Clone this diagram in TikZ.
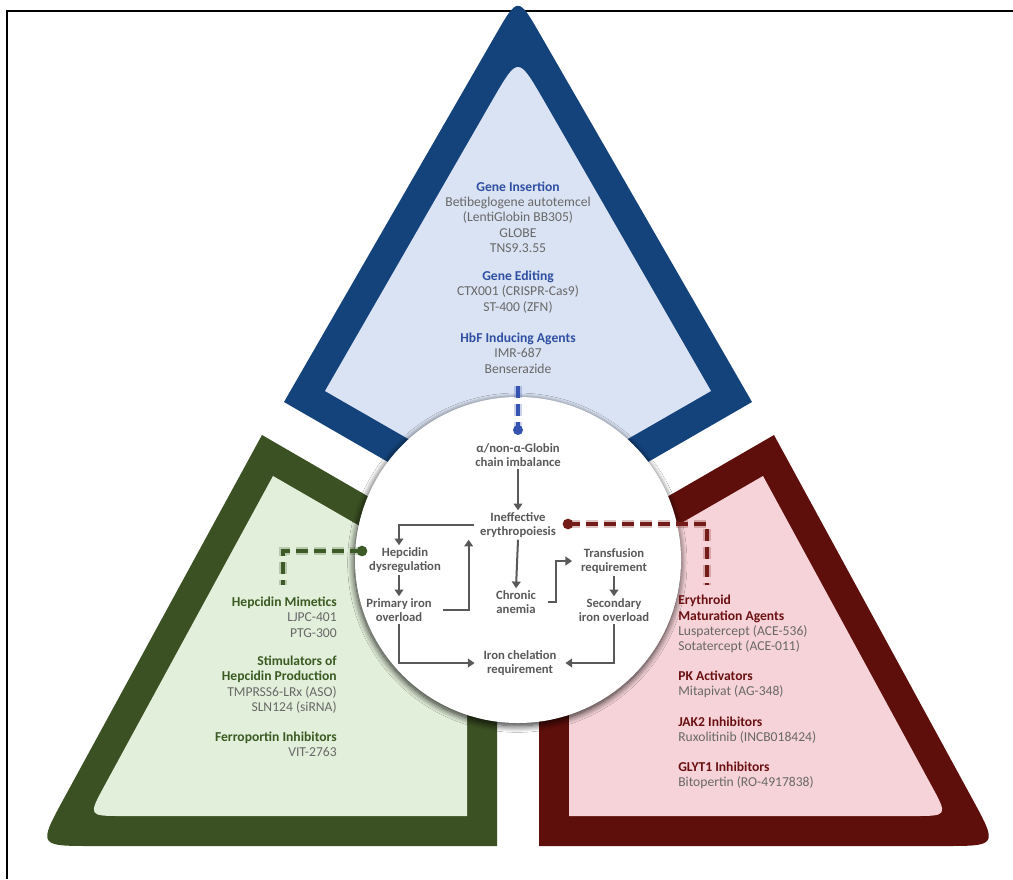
\documentclass[tikz,border=0pt]{standalone}
\usepackage{fontspec}
\setmainfont{Carlito}
\usetikzlibrary{arrows.meta,shadows.blur}
\definecolor{bluedark}{HTML}{14427A}
\definecolor{bluelight}{HTML}{DAE3F3}
\definecolor{greendark}{HTML}{3B5023}
\definecolor{greenlight}{HTML}{E2EFDA}
\definecolor{reddark}{HTML}{5F0F0B}
\definecolor{redlight}{HTML}{F6D3D8}
\definecolor{bluehead}{HTML}{2F4FA3}
\definecolor{greenhead}{HTML}{3A5A22}
\definecolor{redhead}{HTML}{6B1012}
\definecolor{bodygray}{HTML}{686868}
\definecolor{circgray}{HTML}{595959}
\definecolor{bluedash}{HTML}{3553B0}
\definecolor{reddash}{HTML}{741C18}
\definecolor{greendash}{HTML}{3D5A27}
\newcommand\headB[1]{\textcolor{bluehead}{\bfseries #1}}
\newcommand\headG[1]{\textcolor{greenhead}{\bfseries #1}}
\newcommand\headR[1]{\textcolor{redhead}{\bfseries #1}}
\begin{document}
\begin{tikzpicture}[x=0.75pt,y=-0.75pt,
  body/.style={inner sep=0pt, font=\fontsize{10.2}{11.5}\selectfont, text=bodygray},
  ctext/.style={inner sep=1.5pt, align=center, font=\fontsize{9.5}{10.5}\selectfont\bfseries, text=circgray},
  arr/.style={draw=circgray, line width=1.5pt, -{Triangle[length=5pt,width=6.5pt]}},
  dashline/.style={line width=3.6pt, dash pattern=on 9pt off 4.5pt},
  glowline/.style={line width=6pt, dash pattern=on 9pt off 4.5pt, opacity=0.25},
  dotnode/.style={circle, inner sep=0pt, minimum size=7.5pt}
]
\useasboundingbox (0,0) rectangle (1013,879);
\fill[white] (0,0) rectangle (1013,879);
% frame
\draw[line width=1.1pt] (7,879) -- (7,11) -- (1013,11);
% blue piece
\fill[bluedark] (518,537) -- (284,402) -- (495.5,35) .. controls (518,-4) .. (540.5,35) -- (752,402) -- cycle;
\fill[bluelight] (518,502) -- (325,391) -- (492.5,100) .. controls (518,56) .. (543.5,100) -- (711,391) -- cycle;
% green piece
\fill[greendark] (262,435) -- (64.3,797.7) .. controls (38,846) .. (93,846) -- (497,846) -- (497,571) -- cycle;
\fill[greenlight] (273,476) -- (104.7,785.3) .. controls (88,816) .. (123,816) -- (467,816) -- (467,588) -- cycle;
% red piece
\fill[reddark] (774,435) -- (971.7,797.7) .. controls (998,846) .. (943,846) -- (539,846) -- (539,571) -- cycle;
\fill[redlight] (763,476) -- (931.3,785.3) .. controls (948,816) .. (913,816) -- (569,816) -- (569,588) -- cycle;
% central circle
\node[circle, fill=white, inner sep=0pt, minimum size=244.5pt,
  blur shadow={shadow xshift=-0.5pt, shadow yshift=-2pt, shadow blur radius=5pt, shadow blur steps=12, shadow opacity=85}] (hub) at (518,560) {};
% top texts
\node[body, align=center] (gins) at (518,217) {\headB{Gene Insertion}\\Betibeglogene autotemcel\\(LentiGlobin BB305)\\GLOBE\\TNS9.3.55};
\node[body, align=center] (gedit) at (518,292) {\headB{Gene Editing}\\CTX001 (CRISPR-Cas9)\\ST-400 (ZFN)};
\node[body, align=center] (hbf) at (518,353) {\headB{HbF Inducing Agents}\\IMR-687\\Benserazide};
% left texts
\node[body, align=right, anchor=east] (hmim) at (337,617) {\headG{Hepcidin Mimetics}\\LJPC-401\\PTG-300};
\node[body, align=right, anchor=east] (stim) at (337,684.5) {\headG{Stimulators of}\\\headG{Hepcidin Production}\\TMPRSS6-LRx (ASO)\\SLN124 (siRNA)};
\node[body, align=right, anchor=east] (ferro) at (337,744.5) {\headG{Ferroportin Inhibitors}\\VIT-2763};
% right texts
\node[body, align=left, anchor=west] (ery) at (678,624) {\headR{Erythroid}\\\headR{Maturation Agents}\\Luspatercept (ACE-536)\\Sotatercept (ACE-011)};
\node[body, align=left, anchor=west] (pk) at (678,684) {\headR{PK Activators}\\Mitapivat (AG-348)};
\node[body, align=left, anchor=west] (jak) at (678,730) {\headR{JAK2 Inhibitors}\\Ruxolitinib (INCB018424)};
\node[body, align=left, anchor=west] (glyt) at (678,775.5) {\headR{GLYT1 Inhibitors}\\Bitopertin (RO-4917838)};
% circle texts
\node[ctext] (glob) at (518,455) {α/non-α-Globin\\chain imbalance};
\node[ctext] (inef) at (518,525) {Ineffective\\erythropoiesis};
\node[ctext] (hep) at (405,560) {Hepcidin\\dysregulation};
\node[ctext] (prim) at (399,610) {Primary iron\\overload};
\node[ctext] (chron) at (516,602) {Chronic\\anemia};
\node[ctext] (trans) at (614,561) {Transfusion\\requirement};
\node[ctext] (sec) at (614,610) {Secondary\\iron overload};
\node[ctext] (iron) at (520,663) {Iron chelation\\requirement};
% circle arrows
\draw[arr] ([xshift=-3]inef.west) -| (hep.north -| prim.north);
\draw[arr] (glob.south) -- (inef.north);
\draw[arr] (hep.south -| prim.north) -- (prim.north);
\draw[arr] ([xshift=7]prim.east) -| ([xshift=-37]inef.south);
\draw[arr] (inef.south) -- (chron.north);
\draw[arr] ([xshift=7]chron.east) -- ++(8,0) |- ([xshift=-5]trans.west);
\draw[arr] (trans.south) -- (sec.north);
\draw[arr] (prim.south) |- ([xshift=-5]iron.west);
\draw[arr] (sec.south) |- ([xshift=5]iron.east);
% dashed pointers
\coordinate (btop) at (518,386);
\node[dotnode, fill=bluedash] (bdot) at (518,430) {};
\draw[glowline, draw=bluedash] (btop) -- (bdot.center);
\draw[dashline, draw=bluedash] (btop) -- (bdot.center);
\node[dotnode, fill=reddash, minimum size=8pt] (rdot) at (568,524) {};
\coordinate (rcorner) at (707,524);
\coordinate (rend) at (707,585);
\draw[glowline, draw=reddash] (rdot.center) -- (rcorner) -- (rend);
\draw[dashline, draw=reddash] (rdot.center) -- (rcorner) -- (rend);
\node[dotnode, fill=greendash, minimum size=8pt] (gdot) at (362,551) {};
\coordinate (gcorner) at (283,551);
\coordinate (gend) at (283,585);
\draw[glowline, draw=greendash] (gdot.center) -- (gcorner) -- (gend);
\draw[dashline, draw=greendash] (gdot.center) -- (gcorner) -- (gend);
\end{tikzpicture}
\end{document}
